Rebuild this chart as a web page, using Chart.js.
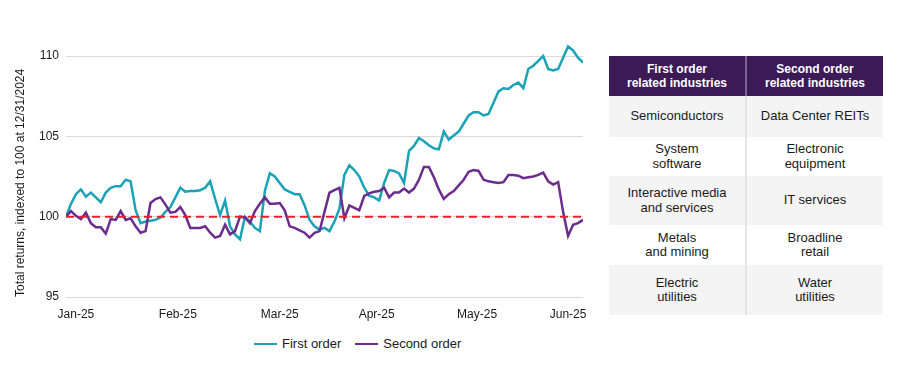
<!DOCTYPE html>
<html>
<head>
<meta charset="utf-8">
<script src="https://cdn.jsdelivr.net/npm/chart.js@4.4.1/dist/chart.umd.min.js"></script>
<style>
  body { margin: 0; background: #fff; font-family: 'Liberation Sans', Arial, sans-serif; }
  #wrap { position: relative; width: 900px; height: 374px; }
  #returnsChart { position: absolute; left: 0; top: 0; }
  #legend { position: absolute; left: 254px; top: 336px; display: flex; align-items: center; font-size: 13px; color: #1a1a1a; }
  #legend .swatch { display: inline-block; width: 23px; height: 2px; margin-right: 5px; }
  #legend .item { display: flex; align-items: center; }
  #legend .item + .item { margin-left: 14px; }
  #industries { position: absolute; left: 609px; top: 56px; width: 274px; border-collapse: collapse; font-size: 13px; color: #1a1a1a; }
  #industries th, #industries td { width: 137px; padding: 0 2px; text-align: center; vertical-align: middle; line-height: 14.5px; box-sizing: border-box; }
  #industries th { background: #3c1a56; color: #fff; font-weight: bold; font-size: 12px; height: 40px; }
  #industries th + th { border-left: 2px solid #7d6296; }
  #industries td + td { border-left: 2px solid #e4e4e4; }
  #industries tbody tr:nth-child(odd) td { background: #f4f4f4; }
</style>
</head>
<body>
<div id="wrap">
  <canvas id="returnsChart" width="600" height="330"></canvas>
  <div id="legend"></div>
  <table id="industries"><thead></thead><tbody></tbody></table>
</div>
<script>
// Trading days since 12/31/2024, index 0 = 100
const firstOrder = [
  100.0, 100.8, 101.4, 101.7, 101.25, 101.5, 101.2, 100.9, 101.5, 101.8,
  101.9, 101.9, 102.3, 102.2, 100.4, 99.6, 99.7, 99.75, 99.8, 99.95,
  100.3, 100.6, 101.2, 101.8, 101.55, 101.6, 101.6, 101.65, 101.8, 102.2,
  101.1, 100.1, 101.0, 99.4, 98.9, 98.6, 100.0, 99.7, 99.3, 99.1,
  101.6, 102.7, 102.5, 102.1, 101.7, 101.55, 101.4, 101.4, 100.7, 99.8,
  99.4, 99.2, 99.3, 99.1, 99.7, 100.5, 102.6, 103.2, 102.9, 102.5,
  101.8, 101.3, 101.2, 101.0, 102.1, 102.9, 102.85, 102.7, 102.1, 104.1,
  104.4, 104.9, 104.7, 104.45, 104.25, 104.2, 105.3, 104.8, 105.05, 105.3,
  105.8, 106.3, 106.5, 106.5, 106.3, 106.4, 107.1, 107.8, 108.0, 107.95,
  108.2, 108.35, 108.0, 109.2, 109.4, 109.7, 110.0, 109.2, 109.1, 109.2,
  109.9, 110.6, 110.35, 109.9, 109.6
];
const secondOrder = [
  100.0, 100.35, 100.05, 99.85, 100.25, 99.6, 99.35, 99.35, 98.95, 99.85,
  99.8, 100.35, 99.8, 99.9, 99.4, 99.0, 99.1, 100.85, 101.1, 101.2,
  100.75, 100.25, 100.3, 100.6, 100.1, 99.3, 99.3, 99.3, 99.4, 99.0,
  98.7, 98.8, 99.5, 98.9, 99.1, 100.0, 99.95, 99.6, 100.35, 100.8,
  101.2, 100.8, 100.8, 100.85, 100.4, 99.4, 99.3, 99.15, 99.0, 98.7,
  99.0, 99.1, 100.3, 101.5, 101.65, 101.8, 99.9, 100.7, 100.55, 100.4,
  101.3, 101.45, 101.55, 101.6, 101.8, 101.2, 101.5, 101.5, 101.75, 101.5,
  101.75, 102.3, 103.1, 103.1, 102.45, 101.7, 101.1, 101.4, 101.6, 101.95,
  102.3, 102.8, 102.9, 102.85, 102.3, 102.2, 102.15, 102.1, 102.15, 102.6,
  102.6, 102.55, 102.4, 102.45, 102.5, 102.6, 102.75, 102.2, 102.0, 102.15,
  100.3, 98.8, 99.5, 99.6, 99.8
];
const baseline = 100;
const monthLabels = ['Jan-25', 'Feb-25', 'Mar-25', 'Apr-25', 'May-25', 'Jun-25'];
const monthTickDays = [2, 22.5, 43, 62.5, 82.7, 101];
const yTicks = [95, 100, 105, 110];

const seriesNames = ['First order', 'Second order'];
const seriesColors = ['#1aa2b6', '#6b2c8e'];
const baselineColor = '#e3232b';

const tableHeaders = ['First order\nrelated industries', 'Second order\nrelated industries'];
const firstIndustries = ['Semiconductors', 'System\nsoftware', 'Interactive media\nand services', 'Metals\nand mining', 'Electric\nutilities'];
const secondIndustries = ['Data Center REITs', 'Electronic\nequipment', 'IT services', 'Broadline\nretail', 'Water\nutilities'];
const rowHeights = [41, 39, 49, 40, 50];

const FONT = "'Liberation Sans', Arial, sans-serif";

function toPoints(values) {
  return values.map((v, i) => ({ x: i, y: v }));
}

const lastDay = firstOrder.length - 1;

new Chart(document.getElementById('returnsChart'), {
  type: 'line',
  data: {
    datasets: [
      {
        label: 'Baseline',
        data: [{ x: 0, y: baseline }, { x: lastDay, y: baseline }],
        borderColor: baselineColor,
        borderWidth: 2,
        borderDash: [8, 5],
        pointRadius: 0,
        order: 0
      },
      {
        label: seriesNames[1],
        data: toPoints(secondOrder),
        borderColor: seriesColors[1],
        borderWidth: 2.5,
        pointRadius: 0,
        tension: 0,
        order: 1
      },
      {
        label: seriesNames[0],
        data: toPoints(firstOrder),
        borderColor: seriesColors[0],
        borderWidth: 2.5,
        pointRadius: 0,
        tension: 0,
        order: 2
      }
    ]
  },
  options: {
    responsive: false,
    animation: false,
    layout: { padding: { left: 9, right: 17, top: 40, bottom: 0 } },
    plugins: { legend: { display: false }, tooltip: { enabled: false } },
    scales: {
      x: {
        type: 'linear',
        min: 0,
        max: lastDay,
        grid: { display: false, drawTicks: false },
        border: { display: false },
        afterBuildTicks: (scale) => {
          scale.ticks = monthTickDays.map(v => ({ value: v }));
        },
        afterFit: (scale) => { scale.height = 33; },
        ticks: {
          autoSkip: false,
          maxRotation: 0,
          padding: 10,
          color: '#1a1a1a',
          font: { family: FONT, size: 12 },
          callback: (value) => {
            const k = monthTickDays.indexOf(value);
            return k >= 0 ? monthLabels[k] : '';
          }
        }
      },
      y: {
        min: 95,
        max: 111,
        grid: { color: '#d9d9d9', lineWidth: 1, drawTicks: false },
        border: { display: false },
        afterBuildTicks: (scale) => {
          scale.ticks = yTicks.map(v => ({ value: v }));
        },
        afterFit: (scale) => { scale.width = 57; },
        ticks: {
          padding: 7,
          color: '#1a1a1a',
          font: { family: FONT, size: 12 }
        },
        title: {
          display: true,
          align: 'start',
          text: 'Total returns, indexed to 100 at 12/31/2024',
          color: '#1a1a1a',
          font: { family: FONT, size: 12 },
          padding: { top: 4, bottom: 0 }
        }
      }
    }
  }
});

// Legend
const legend = document.getElementById('legend');
seriesNames.forEach((name, i) => {
  const item = document.createElement('span');
  item.className = 'item';
  const sw = document.createElement('span');
  sw.className = 'swatch';
  sw.style.background = seriesColors[i];
  item.appendChild(sw);
  item.appendChild(document.createTextNode(name));
  legend.appendChild(item);
});

// Industries table
const table = document.getElementById('industries');
const headRow = document.createElement('tr');
tableHeaders.forEach(h => {
  const th = document.createElement('th');
  th.innerHTML = h.replace('\n', '<br>');
  headRow.appendChild(th);
});
table.tHead.appendChild(headRow);
firstIndustries.forEach((name, r) => {
  const tr = document.createElement('tr');
  [name, secondIndustries[r]].forEach(txt => {
    const td = document.createElement('td');
    td.innerHTML = txt.replace('\n', '<br>');
    td.style.height = rowHeights[r] + 'px';
    tr.appendChild(td);
  });
  table.tBodies[0].appendChild(tr);
});
</script>
</body>
</html>
